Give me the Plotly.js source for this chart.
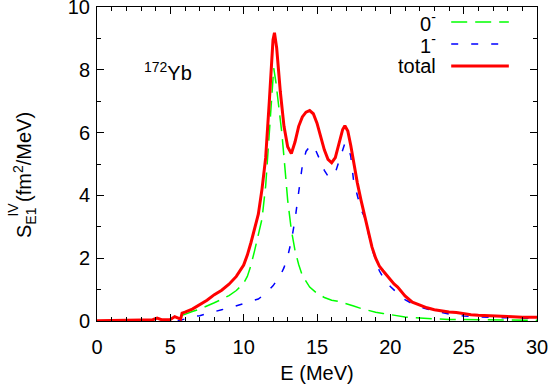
<!DOCTYPE html>
<html>
<head>
<meta charset="utf-8">
<script src="https://cdn.plot.ly/plotly-3.0.1.min.js"></script>
<style>html,body{margin:0;padding:0;background:#fff;}#chart{width:548px;height:392px;}</style>
</head>
<body>
<div id="chart"></div>
<script>
// Total
const totalE = [0,1,2,3,3.8,4.1,4.4,5.0,5.3,5.5,5.7,5.8,6.0,6.5,7.0,7.5,8.0,8.5,9.0,9.5,10.0,10.25,10.5,10.75,11.0,11.25,11.5,11.75,12.0,12.1,12.25,12.5,12.75,13.0,13.25,13.5,13.75,14.0,14.25,14.5,14.75,15.0,15.25,15.5,15.75,16.0,16.25,16.5,16.75,16.9,17.1,17.3,17.5,17.75,18.0,18.25,18.5,18.75,19.0,19.25,19.5,19.75,20.0,20.25,20.5,20.75,21.0,21.5,22.0,22.5,23.0,23.5,24.0,24.5,25.0,25.5,26.0,27.0,28.0,29.0,30.0];
const totalS = [0.01,0.01,0.02,0.03,0.04,0.09,0.04,0.05,0.14,0.10,0.06,0.25,0.28,0.38,0.51,0.66,0.84,0.98,1.17,1.42,1.78,2.10,2.50,2.95,3.40,4.20,5.20,7.00,8.95,9.18,8.70,7.30,6.20,5.55,5.33,5.70,6.20,6.50,6.65,6.70,6.60,6.30,5.90,5.45,5.15,5.04,5.20,5.70,6.10,6.22,6.05,5.60,5.00,4.40,3.85,3.35,2.80,2.35,2.00,1.75,1.60,1.45,1.30,1.18,1.08,0.95,0.80,0.60,0.50,0.42,0.36,0.32,0.29,0.27,0.23,0.20,0.18,0.15,0.14,0.12,0.12];
// 0- component
const zeroE = [5.8,6.0,6.5,7.0,7.5,8.0,8.5,9.0,9.5,10.0,10.25,10.5,10.75,11.0,11.25,11.5,11.75,11.9,12.05,12.2,12.4,12.6,12.8,13.0,13.25,13.5,13.75,14.0,14.5,15.0,15.5,16.0,16.5,17.0,17.5,18.0,18.5,19.0,19.5,20.0,20.5,21.0,21.5,22.0,23.0,24.0,25.0,26.0,28.0,30.0];
const zeroS = [0.18,0.22,0.30,0.38,0.47,0.58,0.69,0.81,0.97,1.20,1.42,1.78,2.25,2.75,3.25,4.30,6.00,7.20,8.05,7.60,6.80,6.00,4.95,3.85,2.90,2.25,1.80,1.45,1.08,0.88,0.75,0.66,0.62,0.56,0.48,0.40,0.33,0.28,0.24,0.20,0.17,0.13,0.11,0.09,0.07,0.05,0.04,0.03,0.03,0.02];
// 1- component
const oneE = [5.5,5.8,6.0,6.5,7.0,7.5,8.0,8.5,9.0,9.5,10.0,10.5,11.0,11.5,12.0,12.5,12.75,13.0,13.25,13.5,13.75,14.0,14.25,14.6,14.9,15.2,15.5,15.8,16.0,16.3,16.6,16.9,17.1,17.3,17.5,17.75,18.0,18.25,18.5,18.75,19.0,19.25,19.5,19.75,20.0,20.5,21.0,21.5,22.0,22.5,23.0,24.0,25.0,26.0,27.0,28.0,29.0,30.0];
const oneS = [0.0,0.04,0.08,0.13,0.17,0.24,0.30,0.36,0.41,0.49,0.57,0.63,0.70,0.88,1.12,1.45,1.70,2.05,2.55,3.22,4.10,4.95,5.40,5.62,5.45,5.15,4.80,4.58,4.60,4.80,5.20,5.66,5.60,5.25,4.45,4.00,3.55,3.30,2.80,2.30,1.95,1.60,1.40,1.25,1.10,0.88,0.68,0.55,0.45,0.38,0.32,0.22,0.16,0.13,0.11,0.10,0.09,0.08];

const legendLabels = ['0<sup>-</sup>', '1<sup>-</sup>', 'total'];
const xTicks = [0,5,10,15,20,25,30];
const yTicks = [0,2,4,6,8,10];

const font = 'Liberation Sans, Arial, Helvetica, sans-serif';
const FS = 20;

const traces = [
  {x: zeroE, y: zeroS, mode: 'lines', name: legendLabels[0], line: {color: '#00ff00', width: 1.5, dash: '16px,8px'}},
  {x: oneE, y: oneS, mode: 'lines', name: legendLabels[1], line: {color: '#0000ff', width: 1.5, dash: '7px,13px'}},
  {x: totalE, y: totalS, mode: 'lines', name: legendLabels[2], line: {color: '#ff0000', width: 3}}
];

const axisCommon = {
  showline: true, linecolor: '#000', linewidth: 1, mirror: 'ticks',
  ticks: 'inside', ticklen: 7, tickwidth: 1, tickcolor: '#000',
  showgrid: false, zeroline: false, ticklabeloverflow: 'allow',
  tickfont: {family: font, size: FS, color: '#000'}
};

const legY = [0.952, 0.882, 0.812];
const shapes = legY.map((y, i) => ({
  type: 'line', xref: 'paper', yref: 'paper', x0: 0.805, x1: 0.936, y0: y, y1: y,
  line: traces[i].line
}));
const annotations = legendLabels.map((t, i) => ({
  text: t, xref: 'paper', yref: 'paper', x: 0.775, y: legY[i], xanchor: 'right', yanchor: 'middle',
  height: 20, valign: 'middle',
  showarrow: false, font: {family: font, size: FS, color: '#000'}
}));
annotations.push({
  text: '<sup>172</sup>Yb', xref: 'x', yref: 'y', x: 4.84, y: 7.95, xanchor: 'center', yanchor: 'middle',
  showarrow: false, font: {family: font, size: FS, color: '#000'}
});
// y-axis title built from two pieces so that "IV" sits above the "E1" subscript
annotations.push({
  text: 'S<sub>E1</sub> (fm<sup>2</sup>/MeV)', xref: 'paper', yref: 'paper', x: 0, y: 0.258,
  xshift: -72, xanchor: 'center', yanchor: 'bottom', textangle: -90,
  showarrow: false, font: {family: font, size: FS, color: '#000'}
});
annotations.push({
  text: 'IV', xref: 'paper', yref: 'paper', x: 0, y: 0.355,
  xshift: -84, xanchor: 'center', yanchor: 'middle', textangle: -90,
  showarrow: false, font: {family: font, size: 14, color: '#000'}
});

const layout = {
  width: 548, height: 392,
  margin: {l: 97, r: 11, t: 7, b: 71},
  paper_bgcolor: '#fff', plot_bgcolor: '#fff',
  showlegend: false,
  xaxis: Object.assign({}, axisCommon, {
    range: [0, 30], tickvals: xTicks, ticklabelstandoff: 8,
    minor: {dtick: 1, ticks: 'inside', ticklen: 4, tickcolor: '#000', showgrid: false},
    title: {text: 'E (MeV)', font: {family: font, size: FS, color: '#000'}, standoff: 8}
  }),
  yaxis: Object.assign({}, axisCommon, {
    range: [0, 10], tickvals: yTicks, ticklabelstandoff: 2,
    minor: {dtick: 1, ticks: 'inside', ticklen: 4, tickcolor: '#000', showgrid: false}
  }),
  shapes: shapes,
  annotations: annotations
};

Plotly.newPlot('chart', traces, layout, {staticPlot: true, displayModeBar: false});
</script>
</body>
</html>
